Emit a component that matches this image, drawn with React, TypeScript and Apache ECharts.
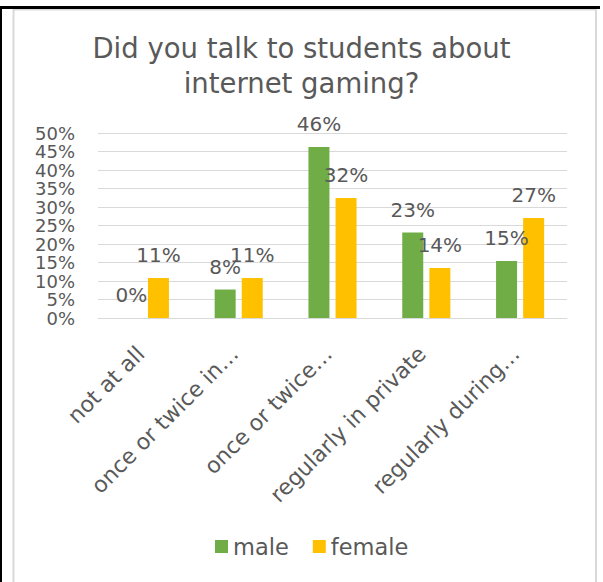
import React, { useEffect, useRef } from "react";
import * as echarts from "echarts";

const categories = [
  "not at all",
  "once or twice in…",
  "once or twice…",
  "regularly in private",
  "regularly during…",
];
const maleValues = [0, 7.7, 46.2, 23.1, 15.4];
const femaleValues = [10.8, 10.8, 32.4, 13.5, 27.0];
const seriesNames = ["male", "female"];
const titleText = "Did you talk to students about\ninternet gaming?";

const FONT = "DejaVu Sans";
const TXT = "#595959";

export default function App() {
  const ref = useRef<HTMLDivElement>(null);
  useEffect(() => {
    const chart = echarts.init(ref.current!, null, { renderer: "svg" });
    const labelCfg = {
      show: true,
      position: "top" as const,
      distance: 13,
      color: TXT,
      fontFamily: FONT,
      fontSize: 20,
      formatter: (p: any) => Math.round(p.value) + "%",
    };
    chart.setOption({
      animation: false,
      backgroundColor: "#ffffff",
      textStyle: { fontFamily: FONT },
      title: {
        text: titleText,
        left: "center",
        top: 25,
        textStyle: {
          fontFamily: FONT,
          fontSize: 27.5,
          fontWeight: "normal",
          color: TXT,
          lineHeight: 35,
        },
      },
      graphic: [
        {
          type: "rect",
          shape: { x: 13.5, y: 9.5, width: 582.5, height: 600 },
          style: { fill: "none", stroke: "#d9d9d9", lineWidth: 2 },
          silent: true,
        },
        {
          type: "rect",
          shape: { x: 0, y: 6, width: 600, height: 3 },
          style: { fill: "#000000" },
          silent: true,
        },
        {
          type: "rect",
          shape: { x: 0, y: 6, width: 2, height: 580 },
          style: { fill: "#000000" },
          silent: true,
        },
      ],
      legend: {
        data: seriesNames,
        left: 210,
        top: 530,
        itemWidth: 13,
        itemHeight: 13,
        itemGap: 24,
        icon: "rect",
        textStyle: { fontFamily: FONT, fontSize: 22.5, color: TXT },
      },
      grid: { left: 98, right: 36, top: 133, bottom: 264, containLabel: false },
      xAxis: {
        type: "category",
        data: categories,
        axisLine: { show: true, lineStyle: { color: "#d9d9d9", width: 1 } },
        axisTick: { show: false },
        axisLabel: {
          rotate: 45,
          interval: 0,
          margin: 28,
          padding: [0, 6, 0, 0],
          color: TXT,
          fontFamily: FONT,
          fontSize: 22,
        },
      },
      yAxis: {
        type: "value",
        min: 0,
        max: 50,
        interval: 5,
        axisLine: { show: false },
        axisTick: { show: false },
        splitLine: { lineStyle: { color: "#d9d9d9", width: 1 } },
        axisLabel: {
          formatter: "{value}%",
          showMinLabel: true,
          showMaxLabel: true,
          hideOverlap: false,
          margin: 23,
          color: TXT,
          fontFamily: FONT,
          fontSize: 18,
        },
      },
      series: [
        {
          name: seriesNames[0],
          type: "bar",
          data: maleValues,
          barWidth: 21,
          barGap: "29%",
          itemStyle: { color: "#70AD47" },
          label: labelCfg,
        },
        {
          name: seriesNames[1],
          type: "bar",
          data: femaleValues,
          barWidth: 21,
          barGap: "29%",
          itemStyle: { color: "#FFC000" },
          label: labelCfg,
        },
      ],
    });
    return () => chart.dispose();
  }, []);
  return (
    <div
      ref={ref}
      style={{ position: "fixed", left: 0, top: 0, width: 603, height: 582 }}
    />
  );
}
